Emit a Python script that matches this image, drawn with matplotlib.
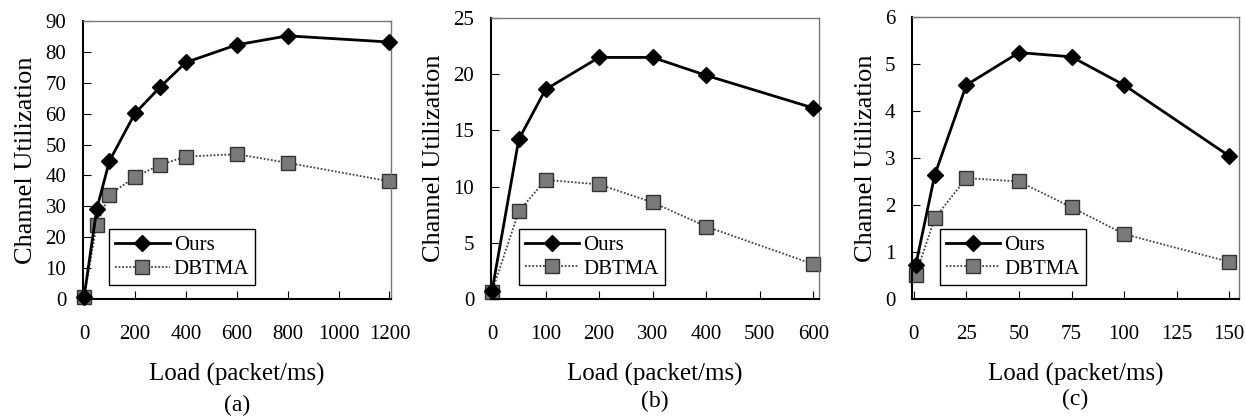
import matplotlib
matplotlib.use("Agg")
import matplotlib.pyplot as plt

plt.rcParams['font.family'] = ['Liberation Serif', 'DejaVu Serif']

# Panel (a)
load_a = [0, 50, 100, 200, 300, 400, 600, 800, 1200]
ours_a = [0.5, 29.1, 44.7, 60.1, 68.7, 76.6, 82.3, 85.2, 83.2]
dbtma_a = [0.5, 24.0, 33.8, 39.5, 43.5, 46.1, 46.9, 44.1, 38.1]
xticks_a = [0, 200, 400, 600, 800, 1000, 1200]
yticks_a = [0, 10, 20, 30, 40, 50, 60, 70, 80, 90]

# Panel (b)
load_b = [0, 50, 100, 200, 300, 400, 600]
ours_b = [0.7, 14.2, 18.65, 21.5, 21.5, 19.9, 17.0]
dbtma_b = [0.65, 7.8, 10.6, 10.2, 8.6, 6.45, 3.1]
xticks_b = [0, 100, 200, 300, 400, 500, 600]
yticks_b = [0, 5, 10, 15, 20, 25]

# Panel (c)
load_c = [1, 10, 25, 50, 75, 100, 150]
ours_c = [0.73, 2.64, 4.55, 5.24, 5.15, 4.55, 3.04]
dbtma_c = [0.52, 1.72, 2.57, 2.5, 1.95, 1.38, 0.79]
xticks_c = [0, 25, 50, 75, 100, 125, 150]
yticks_c = [0, 1, 2, 3, 4, 5, 6]

panels = [
    (load_a, ours_a, dbtma_a, xticks_a, yticks_a, '(a)', [0.0666, 0.2847, 0.247, 0.665], 405, (-4, 1205)),
    (load_b, ours_b, dbtma_b, xticks_b, yticks_b, '(b)', [0.394, 0.2847, 0.263, 0.672], 401, (-2, 610)),
    (load_c, ours_c, dbtma_c, xticks_c, yticks_c, '(c)', [0.732, 0.2847, 0.262, 0.675], 399, (-0.8, 154.4)),
]

fig = plt.figure(figsize=(12.46, 4.18), dpi=100)
for x, o, d, xt, yt, lab, pos, ly, xl in panels:
    ax = fig.add_axes(pos)
    ax.plot(x, d, linestyle=(0, (1, 1)), color='#444444', lw=1.3, marker='s',
            markersize=10, markerfacecolor='#7a7a7a', markeredgecolor='#333333',
            markeredgewidth=1.0, label='DBTMA', zorder=2, clip_on=False)
    ax.plot(x, o, linestyle='-', color='black', lw=2.0, marker='D',
            markersize=8, markerfacecolor='black', markeredgecolor='black',
            label='Ours', zorder=3, clip_on=False)
    ax.set_xlim(*xl)
    ax.set_ylim(yt[0], yt[-1])
    ax.set_xticks(xt)
    ax.set_yticks(yt)
    ax.tick_params(axis='x', direction='in', length=6, pad=19, labelsize=15, top=False)
    ax.tick_params(axis='y', direction='in', length=6, pad=12, labelsize=15, right=False)
    for s in ['top', 'right']:
        ax.spines[s].set_color('#777777')
        ax.spines[s].set_linewidth(1.0)
    for s in ['left', 'bottom']:
        ax.spines[s].set_linewidth(1.5)
    ax.set_ylabel('Channel Utilization', fontsize=19, labelpad=6)
    ax.set_xlabel('Load (packet/ms)', fontsize=18, labelpad=13)
    cx = pos[0] + pos[2] / 2
    fig.text(cx, 1 - ly / 418, lab, ha='center', va='center', fontsize=17)
    h, l = ax.get_legend_handles_labels()
    leg = ax.legend([h[1], h[0]], [l[1], l[0]], loc='lower left',
                    bbox_to_anchor=(0.085, 0.05), fontsize=15, frameon=True,
                    fancybox=False, edgecolor='black', framealpha=1,
                    handlelength=2.6, handletextpad=0.2, borderpad=0.3,
                    labelspacing=0.2, borderaxespad=0)
    leg.get_frame().set_linewidth(1.0)
    leg.set_zorder(5)

fig.savefig('out.png', dpi=100)
